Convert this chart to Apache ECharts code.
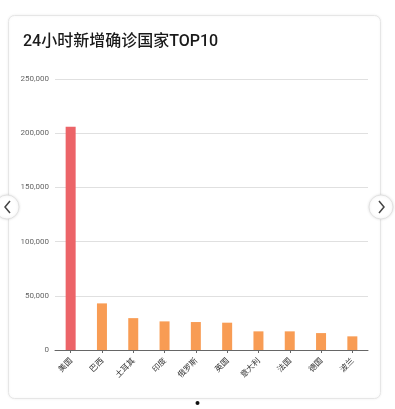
<!DOCTYPE html>
<html><head><meta charset="utf-8">
<script src="https://cdn.jsdelivr.net/npm/echarts@6/dist/echarts.min.js"></script>
<style>html,body{margin:0;padding:0;background:#fff;}#c{width:395px;height:409px;}</style>
</head><body><div id="c"></div>
<script>
var categories = ['美国','巴西','土耳其','印度','俄罗斯','英国','意大利','法国','德国','波兰'];
var values = [206000, 43000, 29400, 26400, 25800, 25200, 17200, 17200, 15600, 12600];
var yTicks = [0, 50000, 100000, 150000, 200000, 250000];
var chart = echarts.init(document.getElementById('c'), null, {renderer:'canvas'});
chart.setOption({
  animation:false,
  backgroundColor:'#fff',
  graphic:[
    {type:'rect', z:-10, shape:{x:8.5,y:15.5,width:372,height:383,r:6}, style:{fill:'#fff',stroke:'#e6e6e6',lineWidth:1, shadowBlur:3, shadowColor:'rgba(0,0,0,0.06)'}},
    {type:'text', left:23, top:34, style:{text:'24小时新增确诊国家TOP10', font:'500 16px Roboto, "Noto Sans CJK SC", sans-serif', fill:'#1a1a1a'}},
    {type:'circle', shape:{cx:7,cy:207,r:12}, style:{fill:'#fff',stroke:'#e2e2e2',lineWidth:1, shadowBlur:3, shadowColor:'rgba(0,0,0,0.1)'}},
    {type:'polyline', shape:{points:[[10,201],[5,207],[10,213]]}, style:{stroke:'#444',lineWidth:1.5,fill:null}},
    {type:'circle', shape:{cx:381,cy:207,r:12}, style:{fill:'#fff',stroke:'#e2e2e2',lineWidth:1, shadowBlur:3, shadowColor:'rgba(0,0,0,0.1)'}},
    {type:'polyline', shape:{points:[[379,201],[384,207],[379,213]]}, style:{stroke:'#444',lineWidth:1.5,fill:null}},
    {type:'circle', shape:{cx:197.5,cy:403,r:2}, style:{fill:'#111'}}
  ],
  grid:{left:55, right:27, top:79, bottom:59, containLabel:false},
  xAxis:{type:'category', data:categories,
    axisLine:{lineStyle:{color:'#666'}},
    axisTick:{show:true, alignWithLabel:true, length:3, lineStyle:{color:'#666'}},
    axisLabel:{rotate:45, fontSize:8, color:'#333', interval:0, margin:9, fontFamily:'"Noto Sans CJK SC", sans-serif'}},
  yAxis:{type:'value', min:yTicks[0], max:yTicks[yTicks.length-1], interval:50000,
    axisLine:{show:false}, axisTick:{show:false},
    axisLabel:{fontSize:8, color:'#666', margin:6, fontFamily:'Roboto, sans-serif', formatter:function(v){return v.toLocaleString('en-US');}},
    splitLine:{lineStyle:{color:'#e0e0e0'}}},
  series:[{type:'bar', data:values.map(function(v,i){return {value:v, itemStyle:{color: i===0 ? '#ec6468' : '#f89c54'}};}), barWidth:10}]
});
</script></body></html>
